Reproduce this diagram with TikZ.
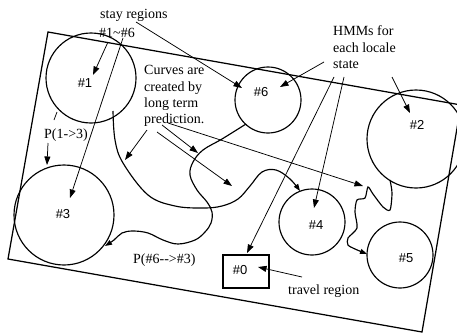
\documentclass[tikz,border=0pt]{standalone}
\usepackage{fontspec}
\setmainfont{Liberation Serif}
\newfontfamily\labfont{Liberation Sans}
\usetikzlibrary{arrows.meta}
\begin{document}
\begin{tikzpicture}[x=1pt,y=-1pt,
  region/.style={draw,circle,line width=1.15pt,inner sep=0pt},
  travelbox/.style={draw,rectangle,line width=1.15pt,inner sep=0pt},
  arr/.style={-{Triangle[length=8.5pt,width=6pt]},line width=0.75pt},
  thin/.style={line width=0.75pt},
  curve/.style={line width=1.15pt},
  lbl/.style={font=\fontsize{14}{16}\selectfont,inner sep=0pt,anchor=base west},
  num/.style={font=\labfont\fontsize{13}{15}\selectfont,inner sep=0pt}]
\useasboundingbox (0,0) rectangle (457,332);
% outer frame
\draw[line width=1.25pt] (48,32) -- (461,105) -- (422,332) -- (8,259) -- cycle;
% regions
\node[region,minimum size=90pt] (r1) at (91,78) {};
\node[region,minimum size=66pt] (r6) at (268,100) {};
\node[region,minimum size=98pt] (r2) at (416,139) {};
\node[region,minimum size=100pt] (r3) at (64,215) {};
\node[region,minimum size=66pt] (r4) at (312,222) {};
\node[region,minimum size=66pt] (r5) at (400,255) {};
\node[travelbox,minimum width=46pt,minimum height=33pt] (r0) at (246,271.5) {};
% region labels
\node[num] (n1) at (85,83) {\#1};
\node[num] (n6) at (261,92) {\#6};
\node[num] (n2) at (417,125) {\#2};
\node[num] (n3) at (63,214) {\#3};
\node[num] (n4) at (316,225) {\#4};
\node[num] (n5) at (406,258) {\#5};
\node[num] (n0) at (240,270) {\#0};
% texts
\node[lbl] (stay) at (100,18) {stay regions};
\node[lbl] (range) at (99,37) {\#1\textasciitilde\#6};
\node[lbl] (cv1) at (144,74) {Curves are};
\node[lbl] (cv2) at (144,91) {created by};
\node[lbl] (cv3) at (144,107) {long term};
\node[lbl] (cv4) at (144,123.5) {prediction.};
\node[lbl] (hm1) at (333,35) {HMMs for};
\node[lbl] (hm2) at (333,52) {each locale};
\node[lbl] (hm3) at (333,68) {state};
\node[lbl] (p13) at (44,138.5) {P(1->3)};
\node[lbl] (p63) at (133,263) {P(\#6-{}-{}>\#3)};
\node[lbl] (trv) at (288,294) {travel region};
% arrow end points
\coordinate (sA) at (108,42); \coordinate (tA) at (93,75);
\coordinate (sB) at (123,38); \coordinate (tB) at (70,198);
\coordinate (sC) at (136,22); \coordinate (tC) at (242,88);
\coordinate (q1) at (57,112); \coordinate (q2) at (54,120);
\coordinate (q3) at (48,143); \coordinate (q4) at (47,165);
\coordinate (pa) at (147,130); \coordinate (ta) at (125,160);
\coordinate (pb) at (157,132); \coordinate (tb) at (232,186);
\coordinate (pc) at (162,125); \coordinate (tc) at (198,153);
\coordinate (pd) at (168,123); \coordinate (td) at (363,186);
\coordinate (ha) at (324,62); \coordinate (tha) at (280,87);
\coordinate (hb) at (334,77); \coordinate (thb) at (247,253);
\coordinate (hc) at (344,77); \coordinate (thc) at (314,208);
\coordinate (hd) at (392,77); \coordinate (thd) at (410,113);
\coordinate (tr) at (302,277); \coordinate (ttr) at (258,267);
% pointer arrows
\draw[arr] (sA) -- (tA);
\draw[arr] (sB) -- (tB);
\draw[arr] (sC) -- (tC);
\draw[thin] (q1) -- (q2);
\draw[arr] (q3) -- (q4);
\draw[arr] (pa) -- (ta);
\draw[arr] (pb) -- (tb);
\draw[arr] (pc) -- (tc);
\draw[arr] (pd) -- (td);
\draw[arr] (ha) -- (tha);
\draw[arr] (hb) -- (thb);
\draw[arr] (hc) -- (thc);
\draw[arr] (hd) -- (thd);
\draw[arr] (tr) -- (ttr);
% predicted curves
\draw[curve,-{Triangle[length=7pt,width=5pt]}] plot[smooth,tension=0.6] coordinates
  {(113,111) (115,140) (123,163) (148,195) (175,206) (203,208) (222,206) (238,199) (250,186) (262,172) (276,170) (290,179) (300,191)};
\draw[curve,-{Triangle[length=7pt,width=5pt]}] plot[smooth,tension=0.6] coordinates
  {(246,124) (222,139) (203,150) (193,162) (190,175) (197,190) (207,202) (212,212) (211,223) (205,232) (195,240) (178,244) (163,240) (148,233) (133,231) (122,233) (114,240) (105,246)};
\draw[curve,-{Triangle[length=7pt,width=5pt]}] plot[smooth,tension=0.45] coordinates
  {(390,180) (392,193) (390,210) (383,207) (373,194) (368,187) (365,198) (357,200) (355,212) (357,228) (348,238) (348,245) (355,249) (367,254)};
\end{tikzpicture}
\end{document}
